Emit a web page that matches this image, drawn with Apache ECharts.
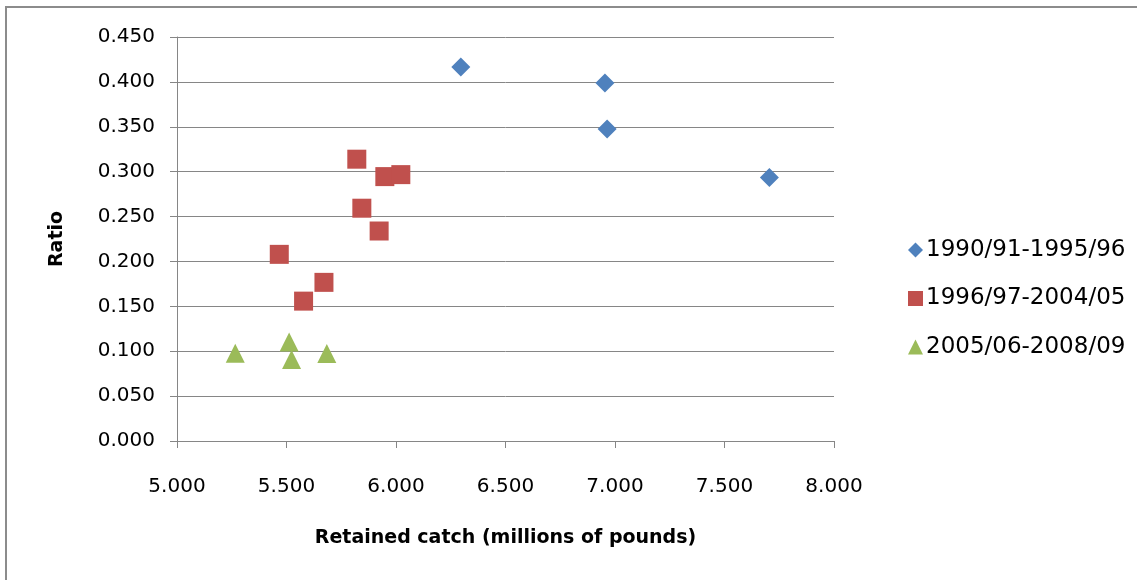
<!DOCTYPE html>
<html>
<head>
<meta charset="utf-8">
<script src="https://cdn.jsdelivr.net/npm/echarts@6/dist/echarts.min.js"></script>
<style>
html,body{margin:0;padding:0;background:#fff;}
#c{width:1137px;height:580px;}
</style>
</head>
<body>
<div id="c"></div>
<script>
// Series names
var seriesNames = ['1990/91-1995/96', '1996/97-2004/05', '2005/06-2008/09'];
// Retained catch (millions of pounds), Ratio
var catch9096 = [6.296, 6.954, 6.964, 7.705];
var ratio9096 = [0.4166, 0.3987, 0.3474, 0.2934];
var catch9705 = [5.821, 5.949, 6.022, 5.844, 5.923, 5.467, 5.671, 5.578];
var ratio9705 = [0.3139, 0.2945, 0.2967, 0.2593, 0.2339, 0.2079, 0.1767, 0.1558];
var catch0609 = [5.266, 5.512, 5.523, 5.684];
var ratio0609 = [0.0978, 0.1104, 0.0908, 0.0975];
var xTicks = [5, 8, 0.5];   // min, max, interval
var yTicks = [0, 0.45, 0.05];

function pairs(xs, ys){ return xs.map(function(x,i){ return [x, ys[i]]; }); }

var FONT = 'DejaVu Sans';
var chart = echarts.init(document.getElementById('c'), null, {renderer:'canvas'});
chart.setOption({
  animation:false,
  backgroundColor:'#fff',
  graphic:[{type:'polyline', x:0, y:0, shape:{points:[[6,800],[6,7],[1400,7]]}, style:{fill:null, stroke:'#8c8c8c', lineWidth:2}, silent:true, z:-1}],
  grid:{left:177, right:303, top:37, bottom:139, containLabel:false},
  xAxis:{
    type:'value', min:xTicks[0], max:xTicks[1], interval:xTicks[2],
    name:'Retained catch (millions of pounds)', nameLocation:'middle', nameGap:88,
    nameTextStyle:{fontFamily:FONT, fontSize:19, fontWeight:'bold', color:'#000'},
    axisLine:{show:true, lineStyle:{color:'#868686', width:1}},
    axisTick:{show:true, length:7, lineStyle:{color:'#868686'}},
    axisLabel:{margin:36, fontFamily:FONT, fontSize:20, color:'#000', formatter:function(v){return v.toFixed(3);}},
    splitLine:{show:false}
  },
  yAxis:{
    type:'value', min:yTicks[0], max:yTicks[1], interval:yTicks[2],
    name:'Ratio', nameLocation:'middle', nameGap:110,
    nameTextStyle:{fontFamily:FONT, fontSize:19, fontWeight:'bold', color:'#000'},
    axisLine:{show:true, lineStyle:{color:'#868686', width:1}},
    axisTick:{show:true, length:7, lineStyle:{color:'#868686'}},
    axisLabel:{margin:22, fontFamily:FONT, fontSize:20, color:'#000', formatter:function(v){return v.toFixed(3);}},
    splitLine:{show:true, lineStyle:{color:'#868686', width:1}}
  },
  legend:{
    orient:'vertical', left:903, top:233, itemGap:24.5, itemWidth:15, itemHeight:15,
    textStyle:{fontFamily:FONT, fontSize:23, color:'#000', lineHeight:24, padding:[0,0,0,-2]},
    data:[{name:seriesNames[0], icon:'diamond'},{name:seriesNames[1], icon:'rect'},{name:seriesNames[2], icon:'triangle'}]
  },
  series:[
    {name:seriesNames[0], type:'scatter', symbol:'diamond', symbolSize:19, itemStyle:{color:'#4F81BD', opacity:1}, data:pairs(catch9096, ratio9096)},
    {name:seriesNames[1], type:'scatter', symbol:'rect', symbolSize:19, itemStyle:{color:'#C0504D', opacity:1}, data:pairs(catch9705, ratio9705)},
    {name:seriesNames[2], type:'scatter', symbol:'triangle', symbolSize:19, itemStyle:{color:'#9BBB59', opacity:1}, data:pairs(catch0609, ratio0609)}
  ]
});
</script>
</body>
</html>
